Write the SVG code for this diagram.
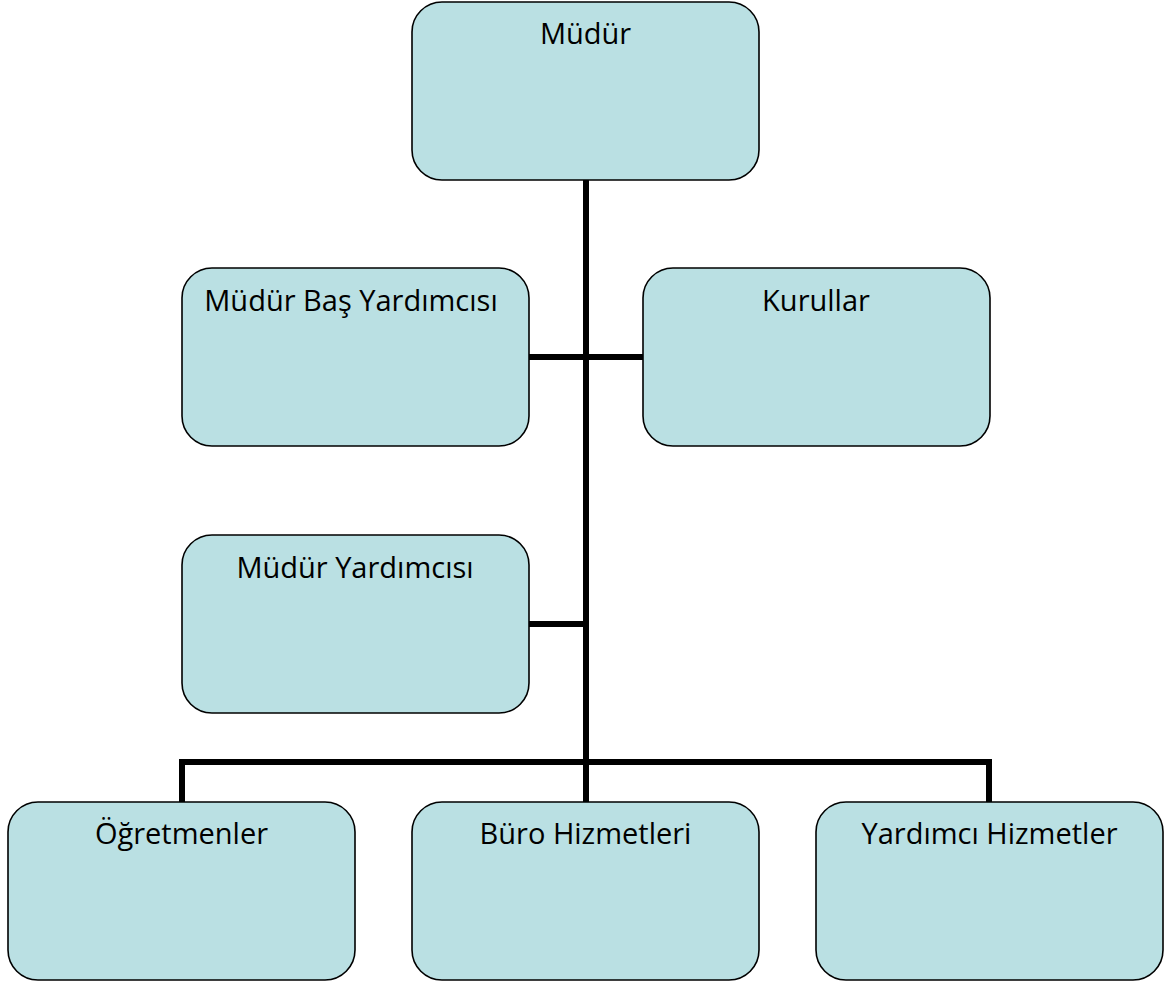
<svg xmlns="http://www.w3.org/2000/svg" width="1167" height="981" viewBox="0 0 1167 981">
<style>
.box{fill:#BAE0E3;stroke:#000;stroke-width:1.6}
.lbl{font-family:"Open Sans","Liberation Sans",sans-serif;font-size:29px;fill:#000;text-anchor:middle}
.conn{fill:none;stroke:#000;stroke-width:6}
</style>
<rect width="1167" height="981" fill="#fff"/>
<g id="connectors">
<line class="conn" x1="586" y1="180" x2="586" y2="802"/>
<line class="conn" x1="528" y1="357" x2="643" y2="357"/>
<line class="conn" x1="528" y1="624" x2="586" y2="624"/>
<polyline class="conn" points="182,802 182,762 989,762 989,802"/>
</g>
<g id="mudur"><rect class="box" x="412" y="2" width="347" height="178" rx="30"/><text class="lbl" x="585.5" y="44">Müdür</text></g>
<g id="mudur-bas-yardimcisi"><rect class="box" x="182" y="268" width="347" height="178" rx="30"/><text class="lbl" x="351" y="311">Müdür Baş Yardımcısı</text></g>
<g id="kurullar"><rect class="box" x="643" y="268" width="347" height="178" rx="30"/><text class="lbl" x="816" y="311">Kurullar</text></g>
<g id="mudur-yardimcisi"><rect class="box" x="182" y="535" width="347" height="178" rx="30"/><text class="lbl" x="355" y="578">Müdür Yardımcısı</text></g>
<g id="ogretmenler"><rect class="box" x="8" y="802" width="347" height="178" rx="30"/><text class="lbl" x="181.5" y="844">Öğretmenler</text></g>
<g id="buro-hizmetleri"><rect class="box" x="412" y="802" width="347" height="178" rx="30"/><text class="lbl" x="585.5" y="844">Büro Hizmetleri</text></g>
<g id="yardimci-hizmetler"><rect class="box" x="816" y="802" width="347" height="178" rx="30"/><text class="lbl" x="989.5" y="844">Yardımcı Hizmetler</text></g>
</svg>
